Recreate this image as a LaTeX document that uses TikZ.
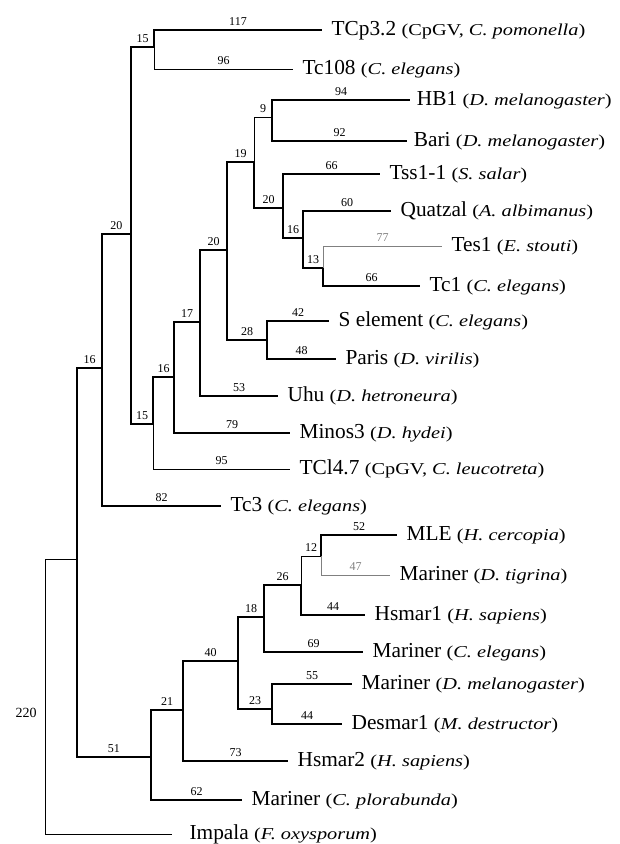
\documentclass[tikz,border=0pt]{standalone}
\usepackage{fontspec}
\setmainfont{Liberation Serif}
\newfontfamily\spfont[FakeStretch=1.22]{Liberation Serif}
\newcommand{\Spc}[1]{{\spfont\fontsize{12.5}{14}\selectfont(#1)}}

\begin{document}
\begin{tikzpicture}[x=0.75pt,y=-0.75pt,
    br/.style={line width=0.8pt},hb/.style={line width=1.3pt},lb/.style={line width=0.5pt},gb/.style={lb,gray},
    lf/.style={anchor=west,inner xsep=7pt,inner ysep=0pt,text height=10pt,text depth=2.5pt,font=\fontsize{16}{18}\selectfont},
    num/.style={above,inner sep=1pt,yshift=2pt,font=\fontsize{9}{10}\selectfont}]
  \useasboundingbox (0,0) rectangle (620,844);
  % leaves
  \node[lf] (tcp) at (322,30) {TCp3.2 \Spc{CpGV, \textit{C. pomonella}}};
  \node[lf] (tc108) at (293,69) {Tc108 \Spc{\textit{C. elegans}}};
  \node[lf,inner xsep=5pt] (hb1) at (410,100) {HB1 \Spc{\textit{D. melanogaster}}};
  \node[lf,inner xsep=5pt] (bari) at (407,141) {Bari \Spc{\textit{D. melanogaster}}};
  \node[lf] (tss) at (380,174) {Tss1-1 \Spc{\textit{S. salar}}};
  \node[lf] (quat) at (391,211) {Quatzal \Spc{\textit{A. albimanus}}};
  \node[lf] (tes) at (442,246) {Tes1 \Spc{\textit{E. stouti}}};
  \node[lf] (tc1) at (420,286) {Tc1 \Spc{\textit{C. elegans}}};
  \node[lf] (sel) at (329,321) {S element \Spc{\textit{C. elegans}}};
  \node[lf] (paris) at (336,359) {Paris \Spc{\textit{D. virilis}}};
  \node[lf] (uhu) at (278,396) {Uhu \Spc{\textit{D. hetroneura}}};
  \node[lf] (minos) at (290,433) {Minos3 \Spc{\textit{D. hydei}}};
  \node[lf] (tcl) at (290,469) {TCl4.7 \Spc{CpGV, \textit{C. leucotreta}}};
  \node[lf] (tc3) at (221,506) {Tc3 \Spc{\textit{C. elegans}}};
  \node[lf] (mle) at (397,535) {MLE \Spc{\textit{H. cercopia}}};
  \node[lf] (tig) at (390,575) {Mariner \Spc{\textit{D. tigrina}}};
  \node[lf] (hsm1) at (365,615) {Hsmar1 \Spc{\textit{H. sapiens}}};
  \node[lf] (mce) at (363,652) {Mariner \Spc{\textit{C. elegans}}};
  \node[lf] (mdm) at (352,684) {Mariner \Spc{\textit{D. melanogaster}}};
  \node[lf] (des) at (342,724) {Desmar1 \Spc{\textit{M. destructor}}};
  \node[lf] (hsm2) at (288,761) {Hsmar2 \Spc{\textit{H. sapiens}}};
  \node[lf] (mcp) at (242,800) {Mariner \Spc{\textit{C. plorabunda}}};
  \node[lf,inner xsep=13pt] (imp) at (172,834) {Impala \Spc{\textit{F. oxysporum}}};
  % internal nodes
  \coordinate (r) at (45,559);
  \coordinate (a) at (77,559);
  \coordinate (b) at (102,368);
  \coordinate (c) at (131,234);
  \coordinate (d) at (154,47);
  \coordinate (e) at (153,424);
  \coordinate (f) at (174,377);
  \coordinate (g) at (200,322);
  \coordinate (h) at (227,250);
  \coordinate (i) at (254,162);
  \coordinate (i1) at (272,117);
  \coordinate (j) at (283,208);
  \coordinate (j2) at (303,238);
  \coordinate (j3) at (323,268);
  \coordinate (k) at (267,340);
  \coordinate (l) at (151,757);
  \coordinate (m) at (183,710);
  \coordinate (n) at (238,661);
  \coordinate (o) at (264,617);
  \coordinate (q) at (301,585);
  \coordinate (s) at (321,556);
  \coordinate (p) at (272,709);
  \node[font=\fontsize{10.5}{12}\selectfont] (rl) at (26,713) {220};
  % branches
  \draw[lb] (r) -- (a); \draw[lb] (r) |- (imp.west);
  \draw[hb] (a) |- node[num,pos=.75]{16} (b); \draw[hb] (a) |- node[num,pos=.75]{51} (l);
  \draw[br] (b) |- node[num,pos=.75]{20} (c); \draw[hb] (b) |- node[num,pos=.75]{82} (tc3.west);
  \draw[hb] (c) |- node[num,pos=.75]{15} (d); \draw[br] (c) |- node[num,pos=.75]{15} (e);
  \draw[hb] (d) |- node[num,pos=.75]{117} (tcp.west); \draw[lb] (d) |- node[num,pos=.75]{96} (tc108.west);
  \draw[br] (e) |- node[num,pos=.75]{16} (f); \draw[lb] (e) |- node[num,pos=.75]{95} (tcl.west);
  \draw[br] (f) |- node[num,pos=.75]{17} (g); \draw[br] (f) |- node[num,pos=.75]{79} (minos.west);
  \draw[hb] (g) |- node[num,pos=.75]{20} (h); \draw[br] (g) |- node[num,pos=.75]{53} (uhu.west);
  \draw[br] (h) |- node[num,pos=.75]{19} (i); \draw[br] (h) |- node[num,pos=.75]{28} (k);
  \draw[lb] (i) |- node[num,pos=.75]{9} (i1); \draw[br] (i) |- node[num,pos=.75]{20} (j);
  \draw[hb] (i1) |- node[num,pos=.75]{94} (hb1.west); \draw[br] (i1) |- node[num,pos=.75]{92} (bari.west);
  \draw[hb] (j) |- node[num,pos=.75]{66} (tss.west); \draw[br] (j) |- node[num,pos=.75]{16} (j2);
  \draw[br] (j2) |- node[num,pos=.75]{60} (quat.west); \draw[br] (j2) |- node[num,pos=.75]{13} (j3);
  \draw[gb] (j3) |- node[num,pos=.75,gray]{77} (tes.west); \draw[br] (j3) |- node[num,pos=.75]{66} (tc1.west);
  \draw[br] (k) |- node[num,pos=.75]{42} (sel.west); \draw[hb] (k) |- node[num,pos=.75]{48} (paris.west);
  \draw[hb] (l) |- node[num,pos=.75]{21} (m); \draw[hb] (l) |- node[num,pos=.75]{62} (mcp.west);
  \draw[br] (m) |- node[num,pos=.75]{40} (n); \draw[br] (m) |- node[num,pos=.75]{73} (hsm2.west);
  \draw[br] (n) |- node[num,pos=.75]{18} (o); \draw[br] (n) |- node[num,pos=.75]{23} (p);
  \draw[br] (o) |- node[num,pos=.75]{26} (q); \draw[br] (o) |- node[num,pos=.75]{69} (mce.west);
  \draw[lb] (q) |- node[num,pos=.75]{12} (s); \draw[hb] (q) |- node[num,pos=.75]{44} (hsm1.west);
  \draw[br] (s) |- node[num,pos=.75]{52} (mle.west); \draw[gb] (s) |- node[num,pos=.75]{47} (tig.west);
  \draw[hb] (p) |- node[num,pos=.75]{55} (mdm.west); \draw[br] (p) |- node[num,pos=.75]{44} (des.west);
\end{tikzpicture}
\end{document}
